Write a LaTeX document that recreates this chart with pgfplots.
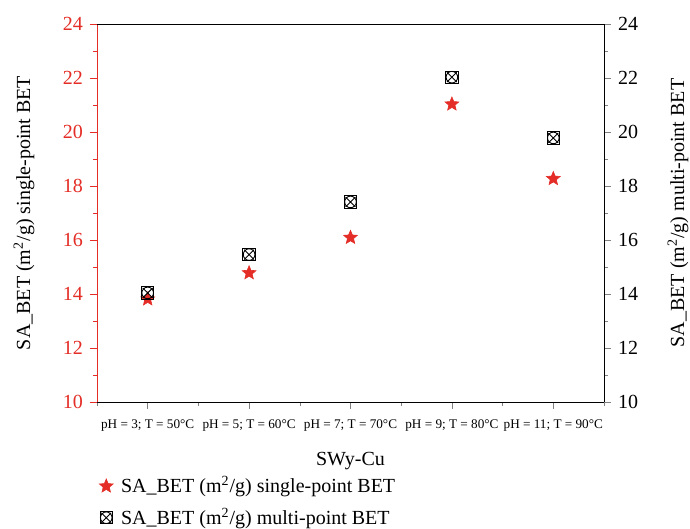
\documentclass[border=0pt]{standalone}
\usepackage{fontspec}
\setmainfont{Liberation Serif}
\usepackage{pgfplots}
\pgfplotsset{compat=1.18}
\definecolor{myred}{RGB}{228,45,38}
\pgfdeclareplotmark{fstar}{%
  \pgfpathmoveto{\pgfpointpolar{90}{\pgfplotmarksize}}%
  \pgfpathlineto{\pgfpointpolar{126}{0.45\pgfplotmarksize}}%
  \pgfpathlineto{\pgfpointpolar{162}{\pgfplotmarksize}}%
  \pgfpathlineto{\pgfpointpolar{198}{0.45\pgfplotmarksize}}%
  \pgfpathlineto{\pgfpointpolar{234}{\pgfplotmarksize}}%
  \pgfpathlineto{\pgfpointpolar{270}{0.45\pgfplotmarksize}}%
  \pgfpathlineto{\pgfpointpolar{306}{\pgfplotmarksize}}%
  \pgfpathlineto{\pgfpointpolar{342}{0.45\pgfplotmarksize}}%
  \pgfpathlineto{\pgfpointpolar{18}{\pgfplotmarksize}}%
  \pgfpathlineto{\pgfpointpolar{54}{0.45\pgfplotmarksize}}%
  \pgfpathclose
  \pgfusepathqfillstroke
}
\begin{document}
\begin{tikzpicture}
\pgfplotsset{
  common/.style={
    scale only axis, width=253.5pt, height=189pt,
    xmin=-0.5, xmax=4.5, ymin=10, ymax=24,
    ytick={10,12,...,24}, minor y tick num=1,
    tick align=outside,
    major tick length=3.5pt, minor tick length=2pt,
    /pgf/number format/assume math mode=true,
    tick label style={font=\fontsize{10}{12}\selectfont},
    label style={font=\fontsize{10}{12}\selectfont},
  },
  starmark/.style={only marks, mark=fstar, mark size=3.6pt, color=myred, mark options={fill=myred, line width=0.3pt}},
}
\begin{axis}[common, name=ax,
  axis y line*=left, axis x line*=bottom,
  xtick={0,1,2,3,4}, minor xtick={-0.5,0.5,1.5,2.5,3.5,4.5},
  xticklabels={{pH = 3; T = 50°C},{pH = 5; T = 60°C},{pH = 7; T = 70°C},{pH = 9; T = 80°C},{pH = 11; T = 90°C}},
  x tick label style={font=\fontsize{6.6}{8}\selectfont, yshift=-2pt},
  y axis line style={myred}, y tick style={myred},
  yticklabel style={myred},
  ylabel={SA\_BET (m\textsuperscript{2}/g) single-point BET},
  ylabel style={at={(axis description cs:0,0.5)}, anchor=center, yshift=36.5pt},
  xlabel={SWy-Cu},
  xlabel style={at={(axis description cs:0.5,0)}, anchor=center, yshift=-29.5pt},
]
\addplot[starmark] coordinates {
(0,13.81) (1,14.78) (2,16.09) (3,21.03) (4,18.27)};
\end{axis}
\begin{axis}[common,
  axis y line*=right, axis x line*=top, xtick=\empty,
  ylabel={SA\_BET (m\textsuperscript{2}/g) multi-point BET},
  ylabel style={at={(axis description cs:1,0.5)}, anchor=center, yshift=-37pt},
  legend style={at={(0,-0.18)}, anchor=north west, draw=none, fill=none,
    font=\fontsize{10}{12}\selectfont, row sep=2pt, column sep=2pt, inner sep=1pt},
  legend cell align=left,
]
\addlegendimage{starmark}
\addlegendentry{SA\_BET (m\textsuperscript{2}/g) single-point BET}
\addplot[only marks, mark=square, mark size=3.1pt, black, line width=0.45pt,
  legend image code/.code={
    \draw[black, line width=0.45pt, mark=square, mark size=3.1pt, only marks] plot coordinates {(0.3cm,0cm)};
    \draw[black, line width=0.45pt, mark=x, mark size=3.5pt, only marks] plot coordinates {(0.3cm,0cm)};
    \draw[black, line width=0.45pt, mark=o, mark size=2.9pt, only marks] plot coordinates {(0.3cm,0cm)};
  }] coordinates {
(0,14.04) (1,15.46) (2,17.41) (3,22.03) (4,19.78)};
\addlegendentry{SA\_BET (m\textsuperscript{2}/g) multi-point BET}
\addplot[only marks, mark=x, mark size=3.5pt, black, line width=0.45pt, forget plot] coordinates {
(0,14.04) (1,15.46) (2,17.41) (3,22.03) (4,19.78)};
\addplot[only marks, mark=o, mark size=2.9pt, black, line width=0.45pt, forget plot] coordinates {
(0,14.04) (1,15.46) (2,17.41) (3,22.03) (4,19.78)};
\end{axis}
\pgfresetboundingbox
\path[use as bounding box] ([xshift=-48.5pt,yshift=-63.5pt]ax.south west) rectangle ([xshift=43pt,yshift=12pt]ax.north east);
\end{tikzpicture}
\end{document}
